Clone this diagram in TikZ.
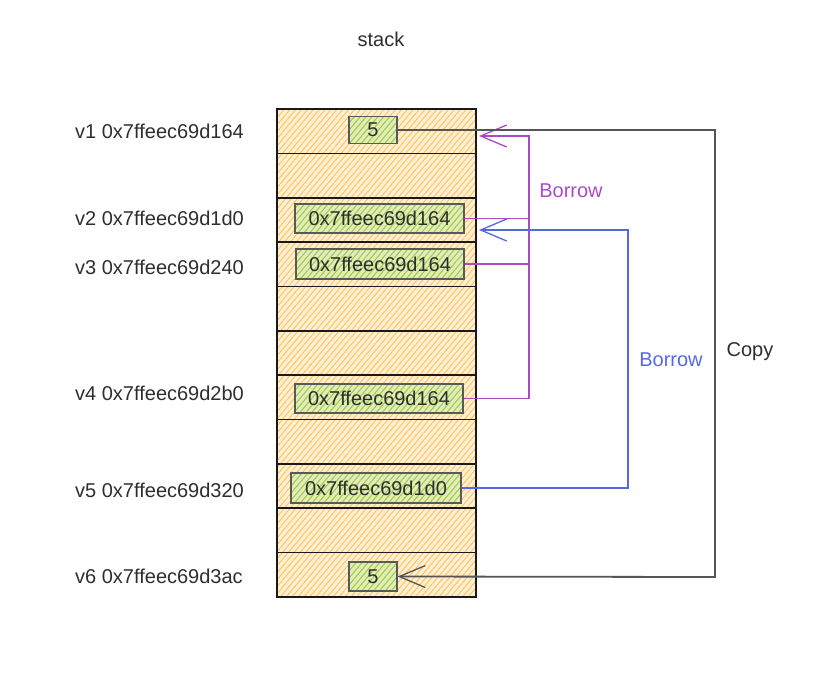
\documentclass[tikz,border=0pt]{standalone}
\usepackage{fontspec}
\setmainfont{Liberation Sans}
\usetikzlibrary{arrows.meta,patterns.meta}

\definecolor{stackfill}{HTML}{FFF0D4}
\definecolor{stackhatch}{HTML}{FFC463}
\definecolor{valfill}{HTML}{E2EDB8}
\definecolor{valhatch}{HTML}{9FC84A}
\definecolor{borrowpurple}{HTML}{A94BC4}
\definecolor{borrowblue}{HTML}{5468E0}
\definecolor{copygray}{HTML}{555555}
\definecolor{textgray}{HTML}{2E2E2E}

\tikzset{
  cell/.style = {draw=black!90, line width=1.6pt, minimum width=199pt, minimum height=44.4pt,
                 inner sep=0pt, preaction={fill=stackfill},
                 pattern={Lines[angle=50,distance=4.5pt,line width=1pt]}, pattern color=stackhatch},
  valbox/.style = {draw=black!65, line width=1.3pt, inner sep=0pt, text=textgray,
                   font=\fontsize{20}{22}\selectfont, preaction={fill=valfill},
                   pattern={Lines[angle=50,distance=4.5pt,line width=1pt]}, pattern color=valhatch},
  addr/.style = {anchor=west, text=textgray, font=\fontsize{20}{22}\selectfont, inner sep=0pt},
  linklabel/.style = {font=\fontsize{20}{22}\selectfont, inner sep=0pt},
  tip/.style = {-{Straight Barb[length=26pt,width=22pt,line width=1.3pt]}},
  borrowp/.style = {draw=borrowpurple, line width=1.6pt},
  borrowb/.style = {draw=borrowblue, line width=1.6pt},
  copyline/.style = {draw=copygray, line width=1.8pt}
}

\begin{document}
\begin{tikzpicture}[x=1pt, y=-1pt]
	\useasboundingbox (0,0) rectangle (824,686);

	\node[linklabel, text=textgray] (title) at (381,39) {stack};

	% stack cells
	\foreach \i in {1,...,11}
		\node[cell] (c\i) at (376.5, {109 + 44.36*(\i-0.5)}) {};

	% values
	\node[valbox, minimum width=48pt, minimum height=27pt] (b1) at (373,130) {5};
	\node[valbox, minimum width=169pt, minimum height=29pt] (b2) at (379.5,218.5) {0x7ffeec69d164};
	\node[valbox, minimum width=168pt, minimum height=30pt] (b3) at (380,264) {0x7ffeec69d164};
	\node[valbox, minimum width=168pt, minimum height=29pt] (b4) at (379,398.5) {0x7ffeec69d164};
	\node[valbox, minimum width=170pt, minimum height=30pt] (b5) at (376,488) {0x7ffeec69d1d0};
	\node[valbox, minimum width=48pt, minimum height=29pt] (b6) at (373,576.5) {5};

	% variable names
	\node[addr] (n1) at (75,131) {v1 0x7ffeec69d164};
	\node[addr] (n2) at (75,218) {v2 0x7ffeec69d1d0};
	\node[addr] (n3) at (75,267) {v3 0x7ffeec69d240};
	\node[addr] (n4) at (75,393) {v4 0x7ffeec69d2b0};
	\node[addr] (n5) at (75,490) {v5 0x7ffeec69d320};
	\node[addr] (n6) at (75,576) {v6 0x7ffeec69d3ac};

	\coordinate (v1in) at (479,136);
	\coordinate (pbus) at (529,136);
	\coordinate (v2in) at (479,230);
	\coordinate (bbus) at (628,230);
	\coordinate (ccorner) at (715,577);

	% borrow of v1
	\draw[borrowp, tip] (b4.east) -| (pbus) -- (v1in);
	\draw[borrowp] (b2.east) -- (b2.east -| pbus);
	\draw[borrowp] (b3.east) -- (b3.east -| pbus);
	\node[linklabel, text=borrowpurple] (lp) at (571,191) {Borrow};

	% borrow of v2
	\draw[borrowb, tip] (b5.east) -| (bbus) -- (v2in);
	\node[linklabel, text=borrowblue] (lb) at (671,360) {Borrow};

	% copy
	\draw[copyline, tip] (b1.east) -| (ccorner) -- (b6.east);
	\node[linklabel, text=textgray] (lc) at (750,352) {Copy};
\end{tikzpicture}
\end{document}
